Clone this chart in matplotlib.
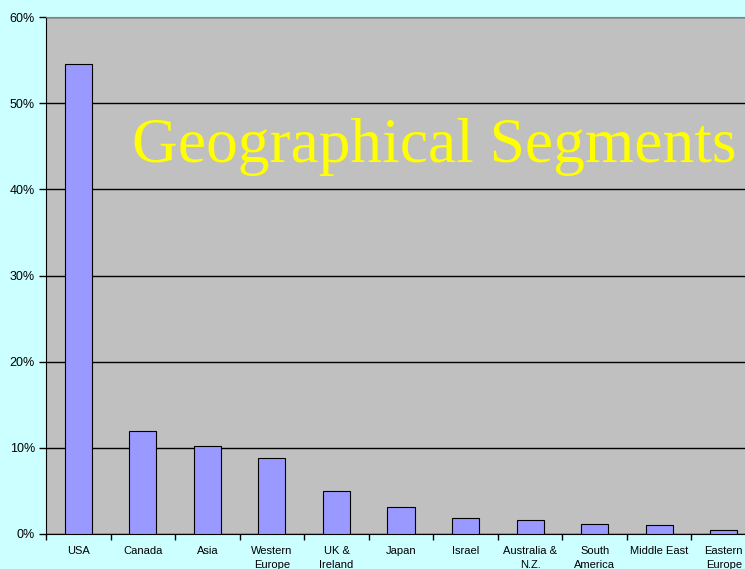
import matplotlib.pyplot as plt
import numpy as np

# Geographical segments - share of total
regions = ['USA', 'Canada', 'Asia', 'Western\nEurope', 'UK &\nIreland', 'Japan',
           'Israel', 'Australia &\nN.Z.', 'South\nAmerica', 'Middle East', 'Eastern\nEurope']
share = [54.5, 12.0, 10.2, 8.8, 5.0, 3.1, 1.9, 1.65, 1.2, 1.05, 0.5]

fig = plt.figure(figsize=(7.45, 5.69), dpi=100, facecolor='#CCFFFF')
# plot area runs off the right edge like in the original slide
ax = fig.add_axes([46/745, 35/569, 710/745, 517/569])
ax.set_facecolor('#C0C0C0')

x = np.arange(len(regions))
ax.set_axisbelow(True)
ax.yaxis.grid(True, color='black', linewidth=1)
ax.bar(x, share, width=0.42, color='#9999FF', edgecolor='black', linewidth=0.8, zorder=3)

ax.set_xlim(-0.5, len(regions) - 0.5)
ax.set_ylim(0, 60)
ax.set_yticks(range(0, 61, 10))
ax.set_yticklabels([f'{v}%' for v in range(0, 61, 10)], fontsize=9, family='Liberation Sans')
ax.tick_params(axis='y', direction='out', length=5, width=1, pad=3)

ax.set_xticks(x)
ax.set_xticklabels(regions, fontsize=8, family='Liberation Sans', linespacing=1.45, va='top')
ax.tick_params(axis='x', which='major', length=0, pad=9)
ax.set_xticks(np.arange(-0.5, len(regions), 1), minor=True)
ax.tick_params(axis='x', which='minor', direction='out', length=4, width=1)

ax.spines['left'].set_color('black')
ax.spines['bottom'].set_color('black')
ax.spines['top'].set_color('#808080')
ax.spines['right'].set_visible(False)

ax.text(0.989, 0.715, 'Geographical Segments', transform=fig.transFigure, ha='right', va='baseline',
        color='#FFFF00', fontsize=45.6, family='Liberation Serif')

fig.savefig('out.png', dpi=100, facecolor=fig.get_facecolor())
